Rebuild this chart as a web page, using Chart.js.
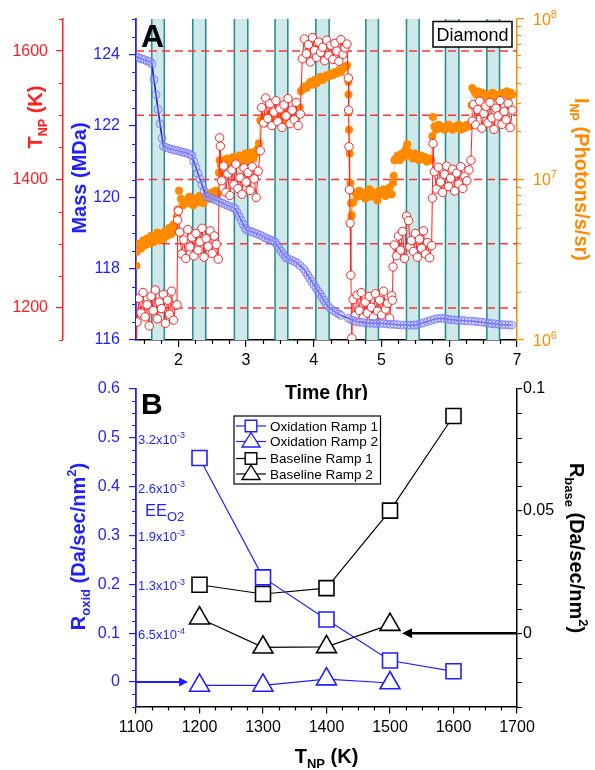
<!DOCTYPE html>
<html><head><meta charset="utf-8">
<script src="https://cdn.jsdelivr.net/npm/chart.js@4.4.1/dist/chart.umd.min.js"></script>
<style>
html,body{margin:0;padding:0;background:#fff;}
#wrap{position:relative;width:595px;height:770px;overflow:hidden;background:#fff;}
canvas{position:absolute;left:0;}
#cA{top:0;}
#cB{top:370px;}
</style></head><body>
<div id="wrap"><canvas id="cA" width="595" height="400"></canvas><canvas id="cB" width="595" height="400"></canvas></div>
<script>
const FF = "'Liberation Sans', Arial, Helvetica, sans-serif";
const RED='#ff1f1f', BLUE='#1f1fff', ORANGE='#ff8a00', TEAL='#2b8f8f', BANDFILL='#cfe8ea';

// ===== Panel A data =====
const timeTicks=[2,3,4,5,6,7];
const tempTicksA=[1200,1400,1600];
const massTicks=[116,118,120,122,124];
const intensityTicks=[1e6,1e7,1e8];
const tempRefLines=[1200,1300,1400,1500,1600];
const bandStart=[1.607,2.213,2.827,3.428,4.030,4.768,5.368,5.944,6.555];
const bandEnd  =[1.793,2.405,3.025,3.616,4.226,4.954,5.555,6.142,6.742];

const massTime=[1.38,1.42,1.46,1.50,1.54,1.58,1.61,1.64,1.67,1.70,
1.73,1.76,1.78,1.82,1.86,1.90,1.94,1.98,2.02,2.06,
2.10,2.14,2.18,2.20,2.23,2.26,2.29,2.32,2.35,2.38,
2.41,2.45,2.49,2.53,2.57,2.61,2.65,2.69,2.73,2.77,
2.81,2.84,2.87,2.90,2.93,2.96,2.99,3.01,3.05,3.09,
3.13,3.17,3.21,3.25,3.29,3.33,3.37,3.40,3.43,3.46,
3.49,3.52,3.55,3.58,3.60,3.64,3.68,3.72,3.76,3.80,
3.85,3.88,3.91,3.94,3.97,4.00,4.03,4.06,4.09,4.12,
4.15,4.18,4.21,4.25,4.29,4.33,4.37,4.40,4.51,4.55,
4.59,4.63,4.68,4.73,4.78,4.83,4.88,4.93,4.98,5.03,
5.08,5.13,5.18,5.23,5.28,5.33,5.38,5.43,5.48,5.53,
5.58,5.63,5.68,5.73,5.78,5.83,5.88,5.93,5.98,6.03,
6.08,6.13,6.18,6.23,6.28,6.33,6.38,6.43,6.48,6.53,
6.58,6.63,6.68,6.73,6.78,6.83,6.88,6.92];
const massMDa=[123.94,123.91,123.88,123.86,123.82,123.80,123.74,123.30,122.88,122.47,
122.06,121.66,121.43,121.40,121.37,121.35,121.33,121.31,121.29,121.27,
121.25,121.23,121.20,121.17,121.00,120.84,120.67,120.51,120.35,120.18,
120.02,120.00,119.97,119.94,119.91,119.87,119.84,119.80,119.77,119.74,
119.71,119.68,119.57,119.46,119.35,119.24,119.13,119.08,119.06,119.03,
119.00,118.97,118.94,118.90,118.86,118.83,118.80,118.77,118.74,118.65,
118.57,118.48,118.40,118.33,118.29,118.26,118.23,118.20,118.15,118.08,
118.00,117.91,117.82,117.73,117.64,117.55,117.46,117.37,117.29,117.20,
117.11,117.02,116.95,116.88,116.82,116.77,116.73,116.69,116.61,116.57,
116.54,116.51,116.50,116.49,116.48,116.47,116.47,116.46,116.47,116.46,
116.45,116.44,116.44,116.43,116.42,116.42,116.42,116.41,116.42,116.43,
116.46,116.49,116.52,116.55,116.58,116.60,116.61,116.60,116.58,116.57,
116.56,116.55,116.55,116.54,116.53,116.53,116.52,116.51,116.50,116.49,
116.47,116.46,116.45,116.44,116.43,116.43,116.42,116.42];

const tnpTime=[1.38,
1.39,1.42,1.45,1.48,1.51,1.54,1.57,1.60,1.63,1.66,1.69,1.72,1.75,1.78,1.81,1.84,1.87,1.90,1.93,1.96,
1.98,1.99,2.00,
2.02,2.05,2.08,2.11,2.14,2.17,2.20,2.23,2.26,2.29,2.32,2.35,2.38,2.41,2.44,2.47,2.50,2.53,2.56,2.59,
2.61,2.62,2.64,2.67,2.70,2.73,2.76,2.79,2.82,2.85,2.88,2.91,2.94,2.97,3.00,3.03,3.06,3.09,3.12,3.15,3.18,
3.21,3.23,3.26,3.29,3.32,3.35,3.38,3.41,3.44,3.47,3.50,3.53,3.56,3.59,3.62,3.65,3.68,3.71,3.74,3.77,3.80,
3.83,3.86,3.89,3.92,3.95,3.98,4.01,4.04,4.07,4.10,4.13,4.16,4.19,4.22,4.25,4.28,4.31,4.34,4.37,4.40,4.43,4.46,4.49,
4.51,4.515,4.52,4.528,4.536,4.547,4.561,
4.58,4.61,4.64,4.67,4.70,4.73,4.76,4.79,4.82,4.85,4.88,4.91,4.94,4.97,5.00,5.03,5.06,5.09,5.12,5.15,
5.16,5.17,5.19,5.22,5.25,5.28,5.31,5.34,5.37,5.40,5.42,5.44,5.47,5.50,5.53,5.56,5.59,5.62,5.65,5.68,5.71,5.74,
5.75,5.76,5.78,5.81,5.84,5.87,5.90,5.93,5.96,5.99,6.02,6.05,6.08,6.11,6.14,6.17,6.20,6.23,6.26,6.29,6.32,
6.34,6.36,6.39,6.42,6.45,6.48,6.51,6.54,6.57,6.60,6.63,6.66,6.69,6.72,6.75,6.78,6.81,6.84,6.87,6.90,6.93];
const tnpK=[1130,
1178,1215,1192,1224,1186,1205,1172,1218,1196,1228,1183,1209,1199,1221,1176,1212,1190,1226,1181,1204,
1205,1337,1351,
1318,1284,1306,1277,1322,1295,1310,1281,1316,1290,1303,1324,1279,1308,1296,1320,1285,1312,1299,1276,
1465,1452,1398,1421,1380,1409,1375,1415,1392,1424,1386,1403,1377,1418,1396,1411,1383,1420,1401,1372,1413,
1445,1512,1488,1527,1495,1518,1484,1505,1523,1490,1510,1481,1516,1499,1526,1487,1508,1493,1520,1484,1502,
1588,1619,1596,1610,1583,1621,1601,1590,1614,1598,1606,1585,1617,1593,1609,1587,1612,1600,1584,1618,1595,1605,1611,
1558,1508,1451,1384,1332,1251,1153,
1213,1188,1220,1196,1224,1185,1209,1192,1218,1201,1186,1222,1195,1212,1189,1226,1198,1207,1184,1219,
1212,1264,1298,1281,1312,1290,1319,1277,1343,1336,1295,1305,1288,1316,1279,1307,1293,1320,1284,1302,1278,1297,
1371,1456,1412,1385,1419,1396,1380,1408,1421,1389,1402,1416,1382,1410,1393,1420,1386,1405,1398,1415,1430,
1491,1517,1485,1509,1522,1480,1503,1514,1488,1520,1496,1478,1511,1499,1523,1486,1506,1493,1519,1481,1508];

const inpTime=[1.38,
1.39,1.42,1.45,1.48,1.51,1.54,1.57,1.60,1.63,1.66,1.69,1.72,1.75,1.78,1.81,1.84,1.87,1.90,1.93,1.96,
1.98,1.99,
2.01,2.04,2.07,2.10,2.13,2.16,2.19,2.22,2.25,2.28,2.31,2.34,2.37,2.40,2.43,2.46,2.49,2.52,2.55,2.58,
2.60,2.61,
2.63,2.66,2.69,2.72,2.75,2.78,2.81,2.84,2.87,2.90,2.93,2.96,2.99,3.02,3.05,3.08,3.11,3.14,3.17,
3.19,3.21,
3.23,3.26,3.29,3.32,3.35,3.38,3.41,3.44,3.47,3.50,3.53,3.56,3.59,3.62,3.65,3.68,3.71,3.74,3.77,
3.79,3.81,
3.83,3.86,3.89,3.92,3.95,3.98,4.01,4.04,4.07,4.10,4.13,4.16,4.19,4.22,4.25,4.28,4.31,4.34,4.37,4.40,4.43,4.46,4.49,
4.51,4.512,4.515,4.52,4.53,4.54,4.55,4.555,
4.56,4.58,4.61,4.64,4.67,4.70,4.73,4.76,4.79,4.82,4.85,4.88,4.91,4.94,4.97,5.00,5.03,5.06,5.09,5.12,5.15,
5.17,5.18,5.19,
5.21,5.24,5.27,5.30,5.33,5.36,5.38,5.40,5.43,5.46,5.49,5.52,5.55,5.58,5.61,5.64,5.67,5.70,5.73,
5.75,5.76,
5.78,5.81,5.84,5.87,5.90,5.93,5.96,5.99,6.02,6.05,6.08,6.11,6.14,6.17,6.20,6.23,6.26,6.29,6.32,
6.33,
6.34,6.37,6.40,6.43,6.46,6.49,6.52,6.55,6.58,6.61,6.64,6.67,6.70,6.73,6.76,6.79,6.82,6.85,6.88,6.91,6.93];
const inpVal=[2.9e6,
3.55e6,3.98e6,3.72e6,4.17e6,3.89e6,4.27e6,3.98e6,4.47e6,4.07e6,4.37e6,4.68e6,4.17e6,4.57e6,4.27e6,4.79e6,4.47e6,5.01e6,4.57e6,5.25e6,4.79e6,
5.9e6,6.5e6,
8.5e6,7.6e6,6.9e6,7.4e6,7.1e6,7.8e6,7.2e6,6.9e6,7.6e6,7.2e6,7.9e6,7.4e6,7.1e6,7.8e6,8.1e6,7.6e6,8.3e6,7.9e6,8.5e6,8.1e6,
1.10e7,1.32e7,
1.23e7,1.32e7,1.26e7,1.35e7,1.23e7,1.29e7,1.38e7,1.26e7,1.32e7,1.41e7,1.29e7,1.35e7,1.45e7,1.32e7,1.38e7,1.48e7,1.35e7,1.45e7,1.55e7,
1.68e7,2.34e7,
2.29e7,2.45e7,2.24e7,2.40e7,2.57e7,2.29e7,2.45e7,2.34e7,2.51e7,2.40e7,2.63e7,2.34e7,2.51e7,2.40e7,2.57e7,2.45e7,2.69e7,2.51e7,2.75e7,
2.82e7,3.55e7,
3.63e7,3.80e7,3.72e7,3.89e7,4.07e7,3.89e7,4.17e7,3.98e7,4.17e7,4.37e7,4.17e7,4.27e7,4.47e7,4.37e7,4.57e7,4.47e7,4.68e7,4.57e7,4.79e7,4.68e7,4.90e7,5.01e7,5.13e7,
4.07e7,3.39e7,2.63e7,2.04e7,1.45e7,9.5e6,7.1e6,5.9e6,
6.0e6,7.2e6,8.3e6,7.8e6,8.5e6,7.9e6,8.3e6,7.6e6,8.1e6,8.7e6,7.8e6,8.3e6,7.9e6,7.4e6,8.5e6,8.1e6,8.7e6,7.9e6,8.3e6,8.9e6,8.1e6,
9.5e6,1.05e7,1.32e7,
1.35e7,1.41e7,1.32e7,1.45e7,1.38e7,1.55e7,1.66e7,1.48e7,1.41e7,1.35e7,1.45e7,1.38e7,1.32e7,1.41e7,1.35e7,1.38e7,1.29e7,1.35e7,1.32e7,
1.86e7,2.45e7,
2.14e7,2.04e7,2.19e7,2.09e7,2.14e7,2.04e7,2.09e7,2.19e7,2.09e7,2.04e7,2.14e7,2.09e7,2.19e7,2.04e7,2.14e7,2.09e7,2.19e7,2.14e7,2.24e7,
2.9e7,
3.72e7,3.55e7,3.39e7,3.55e7,3.31e7,3.47e7,3.39e7,3.24e7,3.39e7,3.31e7,3.47e7,3.31e7,3.24e7,3.39e7,3.31e7,3.47e7,3.39e7,3.55e7,3.31e7,3.47e7,3.39e7];

// ===== Panel B data =====
const tempTicksB=[1100,1200,1300,1400,1500,1600,1700];
const rateTicksL=[0,0.1,0.2,0.3,0.4,0.5,0.6];
const rateTicksR=[0,0.05,0.1];
const tempB1=[1200,1300,1400,1500,1600];
const tempB2=[1200,1300,1400,1500];
const oxRamp1=[0.458,0.214,0.128,0.044,0.022];
const oxRamp2=[-0.007,-0.007,0.006,-0.002];
const baseRamp1=[0.0198,0.016,0.0184,0.0501,0.0888];
const baseRamp2=[0.0061,-0.0058,-0.0056,0.0035];
const eeVals=[0.5,0.4,0.3,0.2,0.1];
const eeMant=['3.2x10','2.6x10','1.9x10','1.3x10','6.5x10'];
const eeExp=['-3','-3','-3','-3','-4'];
const legendLabels=['Oxidation Ramp 1','Oxidation Ramp 2','Baseline Ramp 1','Baseline Ramp 2'];

// ===== helpers =====
Chart.defaults.font.family = FF;
function pts(xs, ys){ return xs.map((x,i)=>({x:x, y:ys[i]})); }
function minorVals(min,max,step,majors){ const out=[]; const n=Math.round((max-min)/step); for(let i=0;i<=n;i++){ const v=+(min+i*step).toFixed(6); if(!majors.some(m=>Math.abs(m-v)<1e-9)) out.push(v);} return out; }
function drawRich(ctx, parts, x, y, opt){
  const rot=opt.rot||0, color=opt.color||'#000', align=opt.align||'center';
  ctx.save(); ctx.translate(x,y); ctx.rotate(rot);
  ctx.fillStyle=color; ctx.textBaseline='alphabetic'; ctx.textAlign='left';
  let w=0;
  for(const p of parts){ ctx.font=(p.b?'bold ':'')+p.s+'px '+FF; w+=ctx.measureText(p.t).width; }
  let cx = align==='center' ? -w/2 : (align==='right' ? -w : 0);
  const base = parts[0].s*0.358;
  for(const p of parts){ ctx.font=(p.b?'bold ':'')+p.s+'px '+FF; ctx.fillText(p.t, cx, base+(p.dy||0)); cx+=ctx.measureText(p.t).width; }
  ctx.restore();
}
function drawMinor(ctx, scale, vals, len, color, side){
  ctx.save(); ctx.strokeStyle=color; ctx.lineWidth=1.2; ctx.beginPath();
  for(const v of vals){
    const p=Math.round(scale.getPixelForValue(v))+0.5;
    if(side==='left'){ ctx.moveTo(scale.right,p); ctx.lineTo(scale.right-len,p); }
    else if(side==='right'){ ctx.moveTo(scale.left,p); ctx.lineTo(scale.left+len,p); }
    else { ctx.moveTo(p,scale.top); ctx.lineTo(p,scale.top+len); }
  }
  ctx.stroke(); ctx.restore();
}
function arrow(ctx, x0, y, x1, color, lw, hl, hw){
  const d=Math.sign(x1-x0);
  ctx.save(); ctx.strokeStyle=color; ctx.fillStyle=color; ctx.lineWidth=lw;
  ctx.beginPath(); ctx.moveTo(x0,y); ctx.lineTo(x1-d*hl,y); ctx.stroke();
  ctx.beginPath(); ctx.moveTo(x1,y); ctx.lineTo(x1-d*hl,y-hw); ctx.lineTo(x1-d*hl,y+hw); ctx.closePath(); ctx.fill();
  ctx.restore();
}
function tickFont(){ return {family:FF, size:16}; }

// ===== Panel A =====
const pluginA = {
  id:'pA',
  beforeDatasetsDraw(chart){
    const {ctx, chartArea:ca, scales} = chart; const x=scales.x, yT=scales.yT;
    ctx.save();
    ctx.beginPath(); ctx.rect(ca.left, ca.top, ca.right-ca.left, ca.bottom-ca.top); ctx.clip();
    for(let i=0;i<bandStart.length;i++){
      const x0=x.getPixelForValue(bandStart[i]), x1=x.getPixelForValue(bandEnd[i]);
      ctx.fillStyle=BANDFILL; ctx.fillRect(x0, ca.top, x1-x0, ca.bottom-ca.top);
      ctx.strokeStyle=TEAL; ctx.lineWidth=1.6;
      ctx.beginPath(); ctx.moveTo(x0,ca.top); ctx.lineTo(x0,ca.bottom); ctx.moveTo(x1,ca.top); ctx.lineTo(x1,ca.bottom); ctx.stroke();
    }
    ctx.setLineDash([8,5]); ctx.strokeStyle='#ff3333'; ctx.lineWidth=1.5;
    for(const v of tempRefLines){ const y=yT.getPixelForValue(v); ctx.beginPath(); ctx.moveTo(ca.left,y); ctx.lineTo(ca.right,y); ctx.stroke(); }
    ctx.restore();
  },
  afterDraw(chart){
    const {ctx, chartArea:ca, scales} = chart;
    drawMinor(ctx, scales.x, minorVals(1.5,7,0.25,timeTicks), 4, '#000', 'bottom');
    drawMinor(ctx, scales.yT, minorVals(1150,1650,50,tempTicksA), 4, RED, 'left');
    drawMinor(ctx, scales.yMass, minorVals(116,125,0.5,massTicks), 4, BLUE, 'left');
    const logMinor=[]; for(const d of [1e6,1e7]) for(let k=2;k<=9;k++) logMinor.push(k*d);
    drawMinor(ctx, scales.yI, logMinor, 4, ORANGE, 'right');
    for(const v of intensityTicks){
      const y=scales.yI.getPixelForValue(v);
      drawRich(ctx,[{t:'10',s:16},{t:String(Math.round(Math.log10(v))),s:11,dy:-7}], scales.yI.left+16, y, {color:ORANGE, align:'left'});
    }
    drawRich(ctx,[{t:'T',s:20,b:1},{t:'NP',s:12.5,b:1,dy:5},{t:' (K)',s:20,b:1}], 35, 117, {rot:-Math.PI/2, color:RED});
    drawRich(ctx,[{t:'Mass (MDa)',s:20,b:1}], 78.5, 178, {rot:-Math.PI/2, color:BLUE});
    drawRich(ctx,[{t:'I',s:20,b:1},{t:'NP',s:12.5,b:1,dy:5},{t:' (Photons/s/sr)',s:20,b:1}], 582.5, 179.5, {rot:Math.PI/2, color:ORANGE});
    drawRich(ctx,[{t:'Time (hr)',s:19.5,b:1}], (ca.left+ca.right)/2, 392, {color:'#000'});
    ctx.save(); ctx.fillStyle='#000'; ctx.font='bold 32px '+FF; ctx.textBaseline='alphabetic'; ctx.fillText('A', 141, 46.5); ctx.restore();
    ctx.save(); ctx.strokeStyle='#000'; ctx.lineWidth=1.5; ctx.fillStyle='#fff';
    ctx.fillRect(433,21.5,79,25.5); ctx.strokeRect(433,21.5,79,25.5); ctx.restore();
    drawRich(ctx,[{t:'Diamond',s:18}], 472.5, 34.5, {color:'#000'});
  }
};

new Chart(document.getElementById('cA'), {
  type:'line',
  data:{ datasets:[
    { label:'Mass', data:pts(massTime,massMDa), yAxisID:'yMass', borderColor:'#1010d8', borderWidth:1.5,
      pointRadius:4, pointBorderWidth:1, pointBorderColor:'rgba(110,110,255,0.75)', pointBackgroundColor:'rgba(190,190,255,0.3)', tension:0 },
    { label:'TNP', data:pts(tnpTime,tnpK), yAxisID:'yT', borderColor:'#ff2020', borderWidth:1,
      pointRadius:4.2, pointBorderWidth:1, pointBorderColor:'#ff2020', pointBackgroundColor:'#fff', tension:0 },
    { label:'INP', data:pts(inpTime,inpVal), yAxisID:'yI', borderColor:'rgba(255,140,0,0.5)', borderWidth:1,
      pointRadius:4, pointBorderWidth:0, pointBorderColor:ORANGE, pointBackgroundColor:ORANGE, tension:0 }
  ]},
  options:{
    responsive:false, animation:false, devicePixelRatio:1,
    layout:{padding:{top:19,left:0,right:0,bottom:0}},
    plugins:{legend:{display:false}, tooltip:{enabled:false}},
    scales:{
      x:{ type:'linear', position:'bottom', min:1.375, max:7,
        afterFit(s){ s.height=60; },
        afterBuildTicks(s){ s.ticks=timeTicks.map(v=>({value:v})); },
        ticks:{ autoSkip:false, maxRotation:0, color:'#000', font:tickFont(), padding:4, callback:v=>String(v) },
        grid:{ drawOnChartArea:false, tickLength:7, color:'#000', lineWidth:1.2 },
        border:{ display:true, color:'#000', width:1.5 } },
      yT:{ type:'linear', position:'left', weight:2, min:1150, max:1650,
        afterFit(s){ s.width=63; },
        afterBuildTicks(s){ s.ticks=tempTicksA.map(v=>({value:v})); },
        ticks:{ color:RED, font:tickFont(), padding:8, callback:v=>String(v) },
        grid:{ drawOnChartArea:false, tickLength:7, color:RED, lineWidth:1.2 },
        border:{ display:true, color:RED, width:1.5 } },
      yMass:{ type:'linear', position:'left', weight:1, min:116, max:125,
        afterFit(s){ s.width=73; },
        afterBuildTicks(s){ s.ticks=massTicks.map(v=>({value:v})); },
        ticks:{ color:BLUE, font:tickFont(), padding:9, callback:v=>String(v) },
        grid:{ drawOnChartArea:false, tickLength:7, color:BLUE, lineWidth:1.2 },
        border:{ display:true, color:BLUE, width:1.8 } },
      yI:{ type:'logarithmic', position:'right', min:1e6, max:1e8,
        afterFit(s){ s.width=78; },
        afterBuildTicks(s){ s.ticks=intensityTicks.map(v=>({value:v})); },
        ticks:{ display:false },
        grid:{ drawOnChartArea:false, tickLength:7, color:ORANGE, lineWidth:1.2 },
        border:{ display:true, color:ORANGE, width:1.5 } }
    }
  },
  plugins:[pluginA]
});

// ===== Panel B =====
const pluginB = {
  id:'pB',
  afterDraw(chart){
    const {ctx, chartArea:ca, scales} = chart; const x=scales.x, yL=scales.yL, yR=scales.yR;
    drawMinor(ctx, x, minorVals(1100,1700,25,tempTicksB), 4, '#000', 'bottom');
    drawMinor(ctx, yL, minorVals(-0.05,0.6,0.025,rateTicksL), 4, BLUE, 'left');
    drawMinor(ctx, yR, minorVals(-0.03,0.1,0.01,rateTicksR), 5, '#000', 'right');
    arrow(ctx, ca.left, yL.getPixelForValue(0), x.getPixelForValue(1182), BLUE, 2, 9, 4.5);
    arrow(ctx, ca.right, yR.getPixelForValue(0), x.getPixelForValue(1519), '#000', 2.5, 10, 5);
    for(let i=0;i<eeVals.length;i++){
      drawRich(ctx,[{t:eeMant[i],s:13},{t:eeExp[i],s:9,dy:-5.5}], ca.left+2, yL.getPixelForValue(eeVals[i])+1.5, {color:BLUE, align:'left'});
    }
    drawRich(ctx,[{t:'EE',s:16.5},{t:'O2',s:13,dy:5.5}], ca.left+9, 140, {color:BLUE, align:'left'});
    ctx.save(); ctx.fillStyle='#000'; ctx.font='bold 30px '+FF; ctx.textBaseline='alphabetic'; ctx.fillText('B', 141, 44); ctx.restore();
    ctx.save(); ctx.fillStyle='#fff'; ctx.strokeStyle='#000'; ctx.lineWidth=1.2;
    ctx.fillRect(234,46,146.5,68); ctx.strokeRect(234,46,146.5,68);
    const rows=[56,71.5,88.5,104];
    const cols=[BLUE,BLUE,'#000','#000'];
    const shapes=['rect','tri','rect','tri'];
    for(let i=0;i<4;i++){
      const y=rows[i];
      ctx.strokeStyle=cols[i]; ctx.lineWidth=1.2;
      ctx.beginPath(); ctx.moveTo(236,y); ctx.lineTo(266,y); ctx.stroke();
      ctx.fillStyle='#fff'; ctx.lineWidth=1.4;
      ctx.beginPath();
      if(shapes[i]==='rect'){ ctx.rect(245.2,y-5.8,11.6,11.6); }
      else { ctx.moveTo(251,y-9); ctx.lineTo(260,y+5.5); ctx.lineTo(242,y+5.5); ctx.closePath(); }
      ctx.fill(); ctx.stroke();
      drawRich(ctx,[{t:legendLabels[i],s:13.5}], 270, y, {color:'#000', align:'left'});
    }
    ctx.restore();
    drawRich(ctx,[{t:'R',s:20,b:1},{t:'oxid',s:13,b:1,dy:5},{t:' (Da/sec/nm',s:20,b:1},{t:'2',s:13,b:1,dy:-9},{t:')',s:20,b:1}], 78, 176.5, {rot:-Math.PI/2, color:BLUE});
    drawRich(ctx,[{t:'R',s:20,b:1},{t:'base',s:13,b:1,dy:5},{t:' (Da/sec/nm',s:20,b:1},{t:'2',s:13,b:1,dy:-9},{t:')',s:20,b:1}], 577, 178, {rot:Math.PI/2, color:'#000'});
    drawRich(ctx,[{t:'T',s:20,b:1},{t:'NP',s:13,b:1,dy:5},{t:' (K)',s:20,b:1}], (ca.left+ca.right)/2, 386, {color:'#000'});
  }
};

new Chart(document.getElementById('cB'), {
  type:'line',
  data:{ datasets:[
    { label:legendLabels[0], data:pts(tempB1,oxRamp1), yAxisID:'yL', borderColor:BLUE, borderWidth:1.2,
      pointStyle:'rect', pointRadius:10.6, pointBorderWidth:1.6, pointBorderColor:BLUE, pointBackgroundColor:'#fff', tension:0 },
    { label:legendLabels[1], data:pts(tempB2,oxRamp2), yAxisID:'yL', borderColor:BLUE, borderWidth:1.2,
      pointStyle:'triangle', pointRadius:11.5, pointBorderWidth:1.6, pointBorderColor:BLUE, pointBackgroundColor:'#fff', tension:0 },
    { label:legendLabels[2], data:pts(tempB1,baseRamp1), yAxisID:'yR', borderColor:'#000', borderWidth:1.2,
      pointStyle:'rect', pointRadius:10.6, pointBorderWidth:1.6, pointBorderColor:'#000', pointBackgroundColor:'#fff', tension:0 },
    { label:legendLabels[3], data:pts(tempB2,baseRamp2), yAxisID:'yR', borderColor:'#000', borderWidth:1.2,
      pointStyle:'triangle', pointRadius:11.5, pointBorderWidth:1.6, pointBorderColor:'#000', pointBackgroundColor:'#fff', tension:0 }
  ]},
  options:{
    responsive:false, animation:false, devicePixelRatio:1,
    layout:{padding:{top:15,left:0,right:0,bottom:0}},
    plugins:{legend:{display:false}, tooltip:{enabled:false}},
    scales:{
      x:{ type:'linear', position:'bottom', min:1100, max:1700,
        afterFit(s){ s.height=63.5; },
        afterBuildTicks(s){ s.ticks=tempTicksB.map(v=>({value:v})); },
        ticks:{ autoSkip:false, maxRotation:0, color:'#000', font:tickFont(), padding:4, callback:v=>String(v) },
        grid:{ drawOnChartArea:false, tickLength:7, color:'#000', lineWidth:1.2 },
        border:{ display:true, color:'#000', width:1.5 } },
      yL:{ type:'linear', position:'left', min:-0.05, max:0.6,
        afterFit(s){ s.width=136; },
        afterBuildTicks(s){ s.ticks=rateTicksL.map(v=>({value:v})); },
        ticks:{ color:BLUE, font:tickFont(), padding:9, callback:v=>(v===0?'0':v.toFixed(1)) },
        grid:{ drawOnChartArea:false, tickLength:7, color:BLUE, lineWidth:1.2 },
        border:{ display:true, color:BLUE, width:1.8 } },
      yR:{ type:'linear', position:'right', min:-0.03, max:0.1,
        afterFit(s){ s.width=78; },
        afterBuildTicks(s){ s.ticks=rateTicksR.map(v=>({value:v})); },
        ticks:{ color:'#000', font:tickFont(), padding:1, callback:v=>String(v) },
        grid:{ drawOnChartArea:false, tickLength:5, color:'#000', lineWidth:1.2 },
        border:{ display:true, color:'#000', width:1.5 } }
    }
  },
  plugins:[pluginB]
});
</script>
</body></html>
